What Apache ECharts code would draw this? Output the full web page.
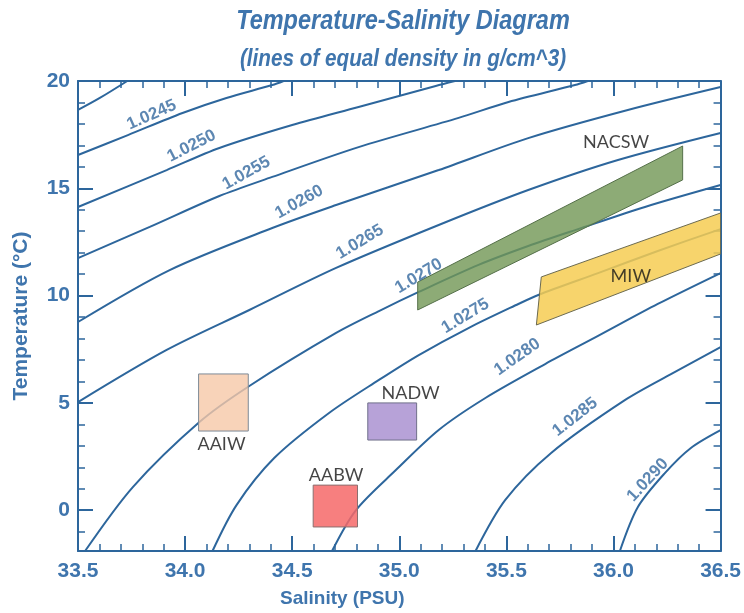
<!DOCTYPE html>
<html>
<head>
<meta charset="utf-8">
<script src="https://cdn.jsdelivr.net/npm/echarts@6/dist/echarts.min.js"></script>
<style>
html,body{margin:0;padding:0;background:#fff;}
#chart{width:744px;height:613px;}
</style>
</head>
<body>
<div id="chart"></div>
<script>
// ---------- data (salinity PSU, temperature °C) ----------
const yMajor = [0, 5, 10, 15, 20];
const yMinor = [-1, 1, 2, 3, 4, 6, 7, 8, 9, 11, 12, 13, 14, 16, 17, 18, 19];
const titleText = 'Temperature-Salinity Diagram';
const subtitleText = '(lines of equal density in g/cm^3)';

// lines of equal density
const rho_10240 = [[33.5,18.65],[33.602,19.21],[33.73,20.0]];
const rho_10245 = [[33.5,16.55],[33.733,17.48],[33.988,18.51],[34.193,19.21],[34.407,19.81],[34.46,20.0]];
const rho_10250 = [[33.5,14.13],[33.914,15.85],[34.16,16.88],[34.5,17.95],[34.81,18.79],[35.17,19.77],[35.26,20.0]];
const rho_10255 = [[33.5,11.75],[33.835,13.2],[34.16,14.64],[34.407,15.53],[34.81,16.92],[35.277,18.28],[35.51,19.02],[35.82,19.81],[35.88,20.0]];
const rho_10260 = [[33.5,8.77],[33.928,11.19],[34.407,13.15],[34.705,14.22],[35.184,15.85],[35.602,17.34],[36.067,18.65],[36.5,19.72]];
const rho_10265 = [[33.5,5.04],[33.914,7.47],[34.3,9.33],[34.705,11.29],[35.184,13.29],[35.602,14.92],[36.021,16.32],[36.5,17.58]];
const rho_10270 = [[33.533,-1.9],[33.756,1.08],[34.067,4.11],[34.3,5.79],[34.705,8.26],[34.905,9.28],[35.091,10.17],[35.37,11.43],[35.602,12.31],[35.835,13.1],[36.147,14.13],[36.5,15.15]];
const rho_10275 = [[34.128,-1.9],[34.24,0.24],[34.416,2.43],[34.672,4.53],[34.905,6.07],[35.091,7.23],[35.323,8.49],[35.556,9.61],[35.649,10.03],[35.928,11.05],[36.207,12.08],[36.5,13.1]];
const rho_10280 = [[34.686,-1.9],[34.798,0.01],[34.984,1.87],[35.184,3.74],[35.402,5.23],[35.681,6.81],[35.928,8.12],[36.207,9.61],[36.5,11.05]];
const rho_10285 = [[35.356,-1.9],[35.495,0.48],[35.709,2.67],[36.053,5.13],[36.277,6.39],[36.5,7.6]];
const rho_10290 = [[36.03,-1.9],[36.114,0.15],[36.24,1.73],[36.36,2.89],[36.5,3.73]];

const contourLines = [rho_10240, rho_10245, rho_10250, rho_10255, rho_10260, rho_10265,
                      rho_10270, rho_10275, rho_10280, rho_10285, rho_10290];

// density labels: text, anchor (S, T), angle
const densityText  = ['1.0245','1.0250','1.0255','1.0260','1.0265','1.0270','1.0275','1.0280','1.0285','1.0290'];
const densityAt    = [[33.844,18.42],[34.03,16.97],[34.286,15.71],[34.533,14.36],[34.816,12.5],
                      [35.091,10.91],[35.309,9.05],[35.551,7.14],[35.821,4.34],[36.16,1.41]];
const densityAngle = [24, 27, 29, 29, 31, 31, 31, 35, 38, 47];

// water masses
const massNames = ['AAIW', 'NADW', 'AABW', 'NACSW', 'MIW'];
const massAAIW  = [[34.063,6.35],[34.295,6.35],[34.295,3.69],[34.063,3.69]];
const massNADW  = [[34.853,5.0],[35.081,5.0],[35.081,3.27],[34.853,3.27]];
const massAABW  = [[34.598,1.17],[34.805,1.17],[34.805,-0.78],[34.598,-0.78]];
const massNACSW = [[35.086,10.63],[36.323,16.97],[36.323,15.39],[35.086,9.33]];
const massMIW   = [[35.663,10.87],[36.5,13.85],[36.5,11.94],[35.64,8.63]];
const massShapes = [massAAIW, massNADW, massAABW, massNACSW, massMIW];
const massLabelAt = [[34.17,3.09],[35.053,5.46],[34.705,1.64],[36.012,17.16],[36.081,10.91]];

// ---------- styles ----------
const massFill = ['rgba(246,200,168,0.8)','rgba(170,146,209,0.85)','rgba(246,105,105,0.85)',
                  'rgba(112,150,84,0.8)','rgba(246,204,82,0.85)'];
const massStroke = ['#7d8a96','#6f6f8a','#8a6f6f','#55704a','#6b6a50'];
const LINE = '#2d669c';
const TEXT = '#3f75ad';
const LABEL = '#35699f';
const FONT = "'Liberation Sans', Arial, sans-serif";

const chart = echarts.init(document.getElementById('chart'), null, {renderer: 'canvas'});

const axisLineStyle = {show: true, onZero: false, lineStyle: {color: LINE, width: 2}};
const tickMajor = {show: true, inside: true, length: 15, lineStyle: {color: LINE, width: 2}};
const tickMinor = {show: true, inside: true, length: 7, lineStyle: {color: LINE, width: 1.5}};

const series = [];
contourLines.forEach((pts) => {
  series.push({
    type: 'line', data: pts, smooth: 0.3, showSymbol: false, symbol: 'none',
    lineStyle: {color: LINE, width: 2}, silent: true, z: 2, clip: true
  });
});
series.push({
  type: 'scatter', symbolSize: 0, silent: true, z: 5,
  data: densityText.map((t, i) => ({
    value: densityAt[i],
    label: {formatter: t, rotate: densityAngle[i]}
  })),
  label: {show: true, position: 'inside', align: 'center', verticalAlign: 'middle',
          color: LABEL, fontFamily: FONT, fontWeight: 'bold', fontSize: 17}
});
series.push({
  type: 'custom', coordinateSystem: 'cartesian2d', silent: true, z: 3, clip: true,
  data: massNames.map((n, i) => [i]),
  encode: {x: 0, y: 0},
  renderItem: function (params, api) {
    const i = params.dataIndex;
    const pts = massShapes[i].map(p => api.coord(p));
    return {
      type: 'polygon',
      shape: {points: pts},
      style: {fill: massFill[i], stroke: massStroke[i], lineWidth: 1}
    };
  }
});
series.push({
  type: 'scatter', symbolSize: 0, silent: true, z: 6,
  data: massNames.map((n, i) => ({value: massLabelAt[i], name: n})),
  label: {show: true, position: 'inside', formatter: '{b}', color: '#151515',
          fontFamily: "Lato, 'Open Sans', sans-serif", fontSize: 18}
});

const option = {
  backgroundColor: '#ffffff',
  animation: false,
  graphic: [
    {type: 'text', x: 403, y: 7, scaleX: 0.84, silent: true,
     style: {text: titleText, fill: TEXT, fontFamily: FONT, fontWeight: 'bold', fontStyle: 'italic',
             fontSize: 28, textAlign: 'center', textVerticalAlign: 'top'}},
    {type: 'text', x: 403, y: 48, scaleX: 0.9, silent: true,
     style: {text: subtitleText, fill: TEXT, fontFamily: FONT, fontWeight: 'bold', fontStyle: 'italic',
             fontSize: 23, textAlign: 'center', textVerticalAlign: 'top'}}
  ],
  grid: {left: 78, right: 21, top: 81, bottom: 62, containLabel: false},
  xAxis: [
    {
      type: 'value', position: 'bottom', min: 33.5, max: 36.5, interval: 0.5,
      axisLine: axisLineStyle, axisTick: tickMajor,
      minorTick: {show: true, splitNumber: 5, length: 7, lineStyle: {color: LINE, width: 1.5}},
      splitLine: {show: false}, minorSplitLine: {show: false},
      axisLabel: {color: TEXT, fontFamily: FONT, fontWeight: 'bold', fontSize: 21, margin: 10,
                  formatter: v => v.toFixed(1)},
      name: 'Salinity (PSU)', nameLocation: 'middle', nameGap: 38,
      nameTextStyle: {color: TEXT, fontFamily: FONT, fontWeight: 'bold', fontSize: 19,
                      padding: [0, 114, 0, 0]}
    },
    {
      type: 'value', position: 'top', min: 33.5, max: 36.5, interval: 0.5,
      axisLine: axisLineStyle, axisTick: tickMajor,
      minorTick: {show: true, splitNumber: 5, length: 7, lineStyle: {color: LINE, width: 1.5}},
      splitLine: {show: false}, axisLabel: {show: false}
    }
  ],
  yAxis: [
    {
      type: 'value', position: 'left', min: -1.9, max: 20,
      axisLine: axisLineStyle,
      axisTick: Object.assign({}, tickMajor, {customValues: yMajor}),
      axisLabel: {customValues: yMajor, color: TEXT, fontFamily: FONT, fontWeight: 'bold', fontSize: 21, margin: 8},
      splitLine: {show: false},
      name: 'Temperature (°C)', nameLocation: 'middle', nameGap: 46, nameRotate: 90,
      nameTextStyle: {color: TEXT, fontFamily: FONT, fontWeight: 'bold', fontSize: 21}
    },
    {
      type: 'value', position: 'left', min: -1.9, max: 20,
      axisLine: {show: false},
      axisTick: Object.assign({}, tickMinor, {customValues: yMinor}),
      axisLabel: {show: false}, splitLine: {show: false}
    },
    {
      type: 'value', position: 'right', min: -1.9, max: 20,
      axisLine: axisLineStyle,
      axisTick: Object.assign({}, tickMajor, {customValues: yMajor}),
      axisLabel: {show: false}, splitLine: {show: false}
    },
    {
      type: 'value', position: 'right', min: -1.9, max: 20,
      axisLine: {show: false},
      axisTick: Object.assign({}, tickMinor, {customValues: yMinor}),
      axisLabel: {show: false}, splitLine: {show: false}
    }
  ],
  series: series
};
chart.setOption(option);
</script>
</body>
</html>
